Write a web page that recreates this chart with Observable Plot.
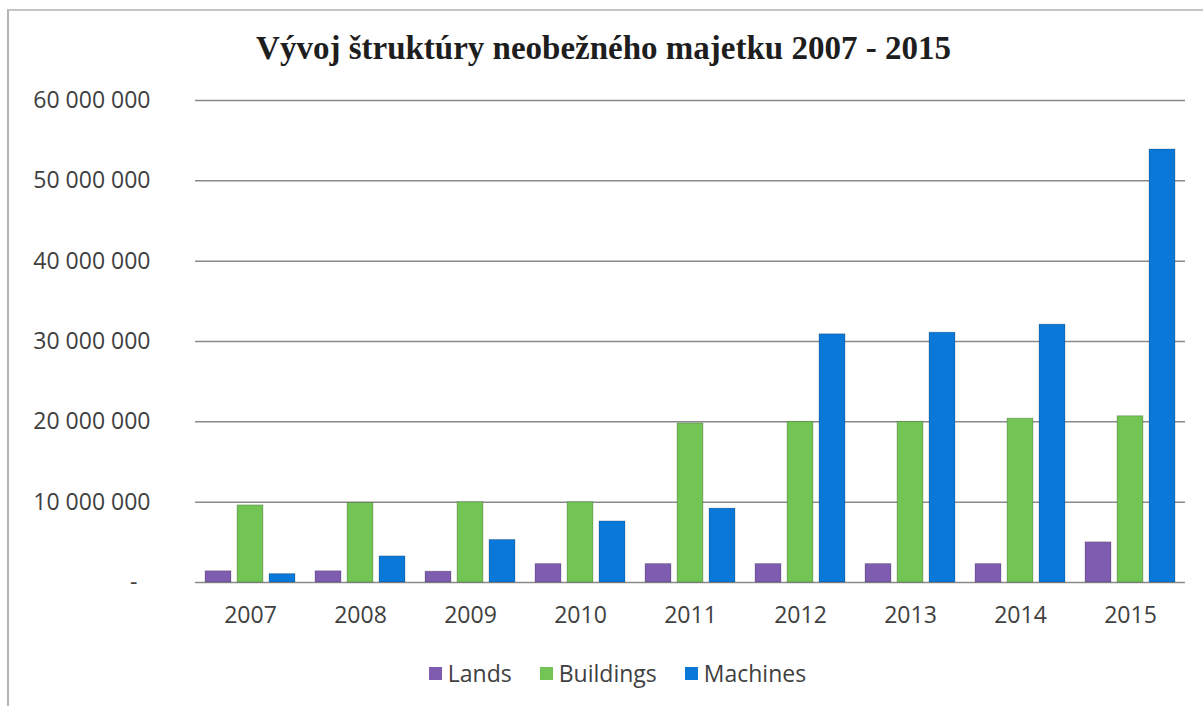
<!DOCTYPE html>
<html>
<head>
<meta charset="utf-8">
<script src="https://cdn.jsdelivr.net/npm/d3@7"></script>
<script src="https://cdn.jsdelivr.net/npm/@observablehq/plot@0.6"></script>
<style>
  html, body { margin: 0; padding: 0; background: #fff; }
  #wrap { position: relative; width: 1203px; height: 706px; overflow: hidden; background: #fff; }
  #frame { position: absolute; left: 7px; top: 9px; width: 1220px; height: 720px;
           border-left: 2px solid #b4b4b4; border-top: 2px solid #c4c4c4; }
  #title { position: absolute; left: 0; top: 29px; width: 1203px; text-align: center;
           font-family: "Liberation Serif", "Times New Roman", serif; font-weight: bold;
           font-size: 33px; line-height: 38px; color: #1e1e1e; padding-left: 4px; box-sizing: border-box; }
  #chart { position: absolute; left: 0; top: 80px; }
  #legend { position: absolute; left: 0; top: 658px; width: 1203px; display: flex; justify-content: center;
            padding-left: 32px; box-sizing: border-box;
            font-family: "Open Sans", "Noto Sans", sans-serif; font-size: 23px; color: #404040; line-height: 30px; }
  .item { display: flex; align-items: center; margin: 0 14px; }
  .sw { width: 13px; height: 13px; margin-right: 6px; }
</style>
</head>
<body>
<div id="wrap">
  <div id="frame"></div>
  <div id="title">Vývoj štruktúry neobežného majetku 2007 - 2015</div>
  <div id="chart"></div>
  <div id="legend"></div>
</div>
<script>
const years = ["2007", "2008", "2009", "2010", "2011", "2012", "2013", "2014", "2015"];
const seriesNames = ["Lands", "Buildings", "Machines"];
const lands     = [1400000, 1400000, 1350000, 2300000, 2300000, 2300000, 2300000, 2300000, 5000000];
const buildings = [9600000, 9900000, 10000000, 10000000, 19800000, 20000000, 20000000, 20400000, 20700000];
const machines  = [1050000, 3250000, 5300000, 7600000, 9200000, 30900000, 31100000, 32100000, 53900000];
const yTicks = [0, 10000000, 20000000, 30000000, 40000000, 50000000, 60000000];
const colors = ["#7e5cb0", "#72c454", "#0a78d8"];

const seriesValues = [lands, buildings, machines];
const data = [];
years.forEach((yr, i) => {
  seriesNames.forEach((s, j) => data.push({year: yr, series: s, value: seriesValues[j][i]}));
});

const fmt = d => d === 0 ? "-\u2007" : d3.format(",")(d).replace(/,/g, " ");

const chart = Plot.plot({
  width: 1203,
  height: 560,
  marginTop: 20,
  marginBottom: 58,
  marginLeft: 195,
  marginRight: 18,
  style: {fontFamily: "'Open Sans', 'Noto Sans', sans-serif", fontSize: "23px", color: "#404040", background: "transparent"},
  fx: {domain: years, padding: 0, label: null, axis: null},
  x: {domain: seriesNames, paddingInner: 0.2, paddingOuter: 0.29, axis: null},
  y: {domain: [0, 60000000], axis: null},
  color: {domain: seriesNames, range: colors},
  marks: [
    Plot.ruleY(yTicks, {stroke: "#8a8a8a", strokeWidth: 1.5}),
    Plot.barY(data, {fx: "year", x: "series", y: "value", fill: "series", stroke: "#00000030", strokeWidth: 1}),
    Plot.axisY({ticks: yTicks, tickFormat: fmt, tickSize: 0, tickPadding: 45, label: null,
                fill: "#404040", fontSize: 23}),
    Plot.axisFx({anchor: "bottom", tickSize: 0, tickPadding: 24, label: null, fill: "#404040", fontSize: 23})
  ]
});
document.getElementById("chart").appendChild(chart);

const legend = document.getElementById("legend");
seriesNames.forEach((s, i) => {
  const it = document.createElement("div");
  it.className = "item";
  const sw = document.createElement("div");
  sw.className = "sw";
  sw.style.background = colors[i];
  const t = document.createElement("span");
  t.textContent = s;
  it.appendChild(sw); it.appendChild(t);
  legend.appendChild(it);
});
</script>
</body>
</html>
